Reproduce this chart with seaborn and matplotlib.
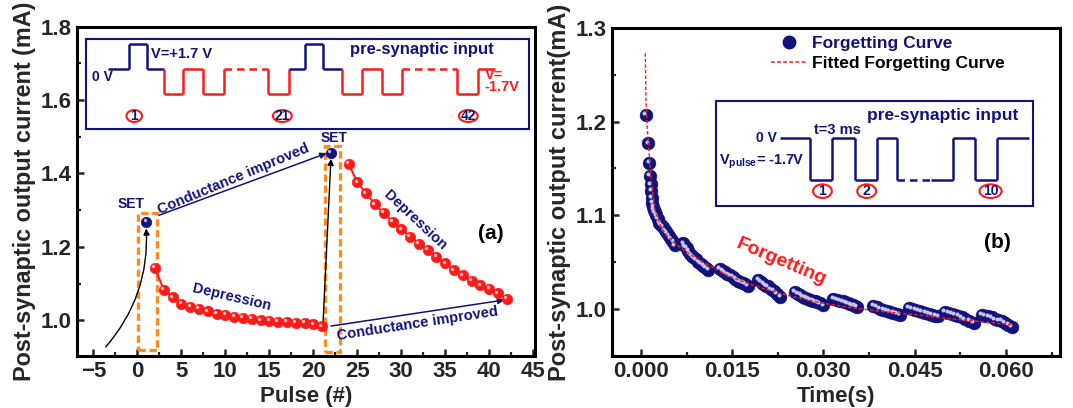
import matplotlib
matplotlib.use("Agg")
import matplotlib.pyplot as plt
import seaborn as sns
import numpy as np
import pandas as pd
from matplotlib.patches import Rectangle, Ellipse
from matplotlib.lines import Line2D
from matplotlib.ticker import MultipleLocator, FormatStrFormatter
from matplotlib.transforms import offset_copy

# ---------------- data ----------------
# (a) potentiation / depression versus pulse number
set_pulse = [1, 22]
set_current = [1.268, 1.457]
dep1_pulse = list(range(2, 22))
dep1_current = [1.143, 1.082, 1.062, 1.045, 1.037, 1.031, 1.024, 1.018, 1.014, 1.009,
                1.006, 1.003, 1.000, 0.998, 0.996, 0.995, 0.993, 0.992, 0.989, 0.983]
dep2_pulse = list(range(24, 43))
dep2_current = [1.427, 1.376, 1.346, 1.316, 1.292, 1.269, 1.248, 1.228, 1.209, 1.191,
                1.173, 1.155, 1.136, 1.122, 1.108, 1.095, 1.086, 1.073, 1.059]

# (b) forgetting curve (time in s, current in mA)
forget_time = [
    0.00082, 0.00120, 0.00137, 0.00148, 0.00158, 0.00167, 0.00176, 0.00188, 0.00200, 0.00215,
    0.00232, 0.00252, 0.00275, 0.00300, 0.00328, 0.00358, 0.00390, 0.00425, 0.00460, 0.00495,
    0.00530, 0.00560,
    0.00696, 0.00725, 0.00751, 0.00778, 0.00806, 0.00833, 0.00861, 0.00902, 0.00943, 0.00984,
    0.01025, 0.01066, 0.01108,
    0.01300, 0.01340, 0.01380, 0.01420, 0.01460, 0.01505, 0.01550, 0.01590, 0.01630, 0.01670,
    0.01710, 0.01760,
    0.01930, 0.01970, 0.02010, 0.02050, 0.02090, 0.02135, 0.02180, 0.02235, 0.02290,
    0.02530, 0.02575, 0.02620, 0.02660, 0.02700, 0.02740, 0.02780, 0.02820, 0.02860, 0.02900,
    0.02940, 0.03000,
    0.03160, 0.03215, 0.03270, 0.03315, 0.03360, 0.03400, 0.03440, 0.03480, 0.03520, 0.03550,
    0.03820, 0.03875, 0.03930, 0.03985, 0.04040, 0.04095, 0.04150, 0.04205, 0.04260,
    0.04400, 0.04455, 0.04510, 0.04565, 0.04620, 0.04675, 0.04730, 0.04785, 0.04840, 0.04890,
    0.05000, 0.05055, 0.05110, 0.05165, 0.05220, 0.05275, 0.05330, 0.05400, 0.05470,
    0.05600, 0.05655, 0.05710, 0.05765, 0.05820, 0.05875, 0.05930, 0.05985, 0.06040, 0.06100,
]
forget_current = [
    1.207, 1.177, 1.156, 1.142, 1.133, 1.126, 1.119, 1.113, 1.109, 1.106,
    1.103, 1.100, 1.096, 1.092, 1.090, 1.088, 1.084, 1.081, 1.078, 1.075,
    1.072, 1.068,
    1.070, 1.067, 1.065, 1.062, 1.059, 1.057, 1.055, 1.053, 1.050, 1.048,
    1.046, 1.044, 1.042,
    1.043, 1.041, 1.039, 1.037, 1.036, 1.034, 1.032, 1.030, 1.029, 1.028,
    1.027, 1.025,
    1.031, 1.029, 1.027, 1.025, 1.024, 1.021, 1.019, 1.016, 1.013,
    1.018, 1.016, 1.015, 1.013, 1.012, 1.011, 1.010, 1.009, 1.008, 1.007,
    1.006, 1.004,
    1.011, 1.010, 1.009, 1.008, 1.007, 1.006, 1.005, 1.004, 1.003, 1.002,
    1.003, 1.002, 1.000, 0.999, 0.998, 0.997, 0.996, 0.995, 0.994,
    1.001, 1.000, 0.999, 0.998, 0.997, 0.996, 0.995, 0.994, 0.993, 0.992,
    0.997, 0.996, 0.995, 0.994, 0.993, 0.991, 0.989, 0.987, 0.985,
    0.994, 0.993, 0.992, 0.991, 0.989, 0.988, 0.987, 0.985, 0.983, 0.981,
]
fit_time = [0.00070, 0.00082, 0.00100, 0.00120, 0.00160, 0.00230, 0.00300, 0.00370, 0.00460,
            0.00560, 0.00700, 0.00860, 0.01050, 0.01250, 0.01450, 0.01680, 0.02000, 0.02500,
            0.03000, 0.03500, 0.04000, 0.04500, 0.05000, 0.05500, 0.06120]
fit_current = [1.273, 1.223, 1.195, 1.177, 1.141, 1.106, 1.092, 1.083, 1.076,
               1.070, 1.063, 1.056, 1.049, 1.042, 1.035, 1.029, 1.022, 1.013,
               1.006, 1.001, 0.997, 0.994, 0.990, 0.987, 0.983]

# pre-synaptic pulse trains (volts)
train_a_levels = [0, 1.7, 0, -1.7, 0, -1.7, 0, -1.7, 0, 1.7, 0, -1.7, 0, -1.7, 0, -1.7, 0]
train_a_set = [True, True, True, False, False, False, False, False, True, True, True,
               False, False, False, False, False, False]
train_b_levels = [0, -1.7, 0, -1.7, 0, -1.7, -1.7, 0, -1.7, 0]
labels_a = ["1", "21", "42"]
labels_b = ["1", "2", "10"]

# ---------------- style ----------------
sns.set_style("ticks")
plt.rcParams["font.family"] = ["Liberation Sans", "DejaVu Sans"]
plt.rcParams["font.weight"] = "bold"
plt.rcParams["axes.labelweight"] = "bold"
plt.rcParams["mathtext.fontset"] = "custom"
plt.rcParams["mathtext.rm"] = "Liberation Sans"
plt.rcParams["mathtext.bf"] = "Liberation Sans:bold"

navy = "#12127a"
red = "#ff1a1a"
orange = "#ff8c1a"

fig = plt.figure(figsize=(10.73, 4.08), dpi=100)
ax1 = fig.add_axes([0.0715, 0.128, 0.4271, 0.8064])
ax2 = fig.add_axes([0.5701, 0.128, 0.4178, 0.8034])


def balls(ax, x, y, color, hi, s):
    sns.scatterplot(x=x, y=y, ax=ax, color=color, s=s, edgecolor=color,
                    linewidth=0.4, zorder=4, legend=False)
    tr = offset_copy(ax.transData, fig=fig, x=-1.2, y=1.2, units="points")
    ax.scatter(x, y, s=s * 0.1, color=hi, transform=tr, zorder=5, linewidths=0)


def style_axes(ax):
    for sp in ax.spines.values():
        sp.set_visible(True)
        sp.set_linewidth(2.2)
        sp.set_color("black")
    ax.tick_params(which="major", direction="in", length=5, width=1.8,
                   labelsize=16, pad=4, top=False, right=False)
    ax.tick_params(which="minor", direction="in", length=3, width=1.6,
                   top=False, right=False)


# ---------------- (a) ----------------
sns.lineplot(x=dep1_pulse, y=dep1_current, ax=ax1, color=red, lw=1.5, zorder=3)
sns.lineplot(x=dep2_pulse, y=dep2_current, ax=ax1, color=red, lw=1.5, zorder=3)
balls(ax1, dep1_pulse, dep1_current, red, "#ffc0c0", 58)
balls(ax1, dep2_pulse, dep2_current, red, "#ffc0c0", 58)
balls(ax1, set_pulse, set_current, navy, "#b8b8e8", 58)

ax1.set_xlim(-6.9, 45.2)
ax1.set_ylim(0.903, 1.8)
ax1.xaxis.set_major_locator(MultipleLocator(5))
ax1.xaxis.set_minor_locator(MultipleLocator(2.5))
ax1.yaxis.set_major_locator(MultipleLocator(0.2))
ax1.yaxis.set_minor_locator(MultipleLocator(0.1))
ax1.yaxis.set_major_formatter(FormatStrFormatter("%.1f"))
style_axes(ax1)
ax1.set_xlabel("Pulse (#)", fontsize=16, labelpad=3)
ax1.set_ylabel("Post-synaptic output current (mA)", fontsize=16.8, labelpad=3)

# dashed frames around the SET pulses
for x0, x1, y0, y1 in [(0.07, 2.27, 0.918, 1.291), (21.3, 23.0, 0.914, 1.475)]:
    ax1.add_patch(Rectangle((x0, y0), x1 - x0, y1 - y0, fill=False, ec=orange,
                            lw=2.4, ls=(0, (2.2, 1.1)), zorder=2))

# black arrows into the SET points
ax1.annotate("", xy=(1.0, 1.25), xytext=(-3.6, 0.927),
             arrowprops=dict(arrowstyle="-|>", color="black", lw=1.0,
                             mutation_scale=9, connectionstyle="arc3,rad=0.2",
                             shrinkA=0, shrinkB=0))
ax1.annotate("", xy=(22.0, 1.44), xytext=(21.1, 0.99),
             arrowprops=dict(arrowstyle="-|>", color="black", lw=1.0,
                             mutation_scale=9, shrinkA=0, shrinkB=0))
# blue "conductance improved" arrows
ax1.annotate("", xy=(21.5, 1.455), xytext=(2.45, 1.286),
             arrowprops=dict(arrowstyle="-|>", color=navy, lw=1.1,
                             mutation_scale=9, shrinkA=0, shrinkB=0))
ax1.annotate("", xy=(41.7, 1.055), xytext=(22.0, 0.984),
             arrowprops=dict(arrowstyle="-|>", color=navy, lw=1.1,
                             mutation_scale=9, shrinkA=0, shrinkB=0))

txt = dict(color=navy, fontweight="bold", ha="center", va="center",
           rotation_mode="anchor")
ax1.text(10.9, 1.3845, "Conductance improved", fontsize=10.5, rotation=22.7, **txt)
ax1.text(31.8, 0.989, "Conductance improved", fontsize=10.5, rotation=8.7, **txt)
ax1.text(10.7, 1.062, "Depression", fontsize=10.5, rotation=-13.2, **txt)
ax1.text(31.6, 1.273, "Depression", fontsize=10.5, rotation=-43, **txt)
ax1.text(-0.76, 1.316, "SET", fontsize=10, **txt)
ax1.text(22.4, 1.497, "SET", fontsize=10, **txt)
ax1.text(40.2, 1.236, "(a)", fontsize=15, color="black", ha="center", va="center")

# inset (a): pre-synaptic pulse train
ia = fig.add_axes([0.0801, 0.6838, 0.4125, 0.2216])
ia.set_xlim(0, 22.54)
ia.set_ylim(-4.07, 2.05)
ia.set_xticks([])
ia.set_yticks([])
for sp in ia.spines.values():
    sp.set_color(navy)
    sp.set_linewidth(1.5)
ia.patch.set_facecolor("white")
ia.set_zorder(6)

widths_a = [1.05, 0.93, 0.88, 0.96, 1.0, 1.05, 2.28, 1.05, 0.79, 0.96, 0.96, 1.0,
            1.02, 1.05, 2.8, 1.05, 0.88]
dashed_a = {6, 14}
xpos = 1.14
prev_lvl, prev_col = None, None
for i, (lvl, w) in enumerate(zip(train_a_levels, widths_a)):
    col = navy if train_a_set[i] else red
    if prev_lvl is not None and prev_lvl != lvl:
        vcol = red if (col == red or prev_col == red) else navy
        ia.plot([xpos, xpos], [prev_lvl, lvl], color=vcol, lw=1.8, solid_capstyle="butt")
    ls = (0, (3, 2)) if i in dashed_a else "-"
    ia.plot([xpos, xpos + w], [lvl, lvl], color=col, lw=1.8, ls=ls, solid_capstyle="butt")
    xpos += w
    prev_lvl, prev_col = lvl, col

ia.text(1.38, -0.58, "0 V", color=navy, fontsize=10, ha="right", va="center")
ia.text(4.88, 0.98, "V=+1.7 V", color=navy, fontsize=10.5, ha="center", va="center")
ia.text(17.1, 1.33, "pre-synaptic input", color=navy, fontsize=12, ha="center", va="center")
ia.text(20.3, -0.83, "V=\n-1.7V", color=red, fontsize=10.5, ha="left", va="center",
        linespacing=0.85)
for lab, xc in zip(labels_a, [2.46, 10.0, 19.47]):
    w = 0.79 if len(lab) == 1 else 0.96
    ia.add_patch(Ellipse((xc, -3.19), w, 0.81, fill=False, ec=red, lw=1.5))
    ia.text(xc, -3.19, lab, color=navy, fontsize=10, ha="center", va="center")

# ---------------- (b) ----------------
forget_df = pd.DataFrame({"time": forget_time, "current": forget_current})
fit_df = pd.DataFrame({"time": fit_time, "current": fit_current})
balls(ax2, forget_df["time"], forget_df["current"], navy, "#c4c4ee", 85)
sns.lineplot(data=fit_df, x="time", y="current", ax=ax2, color=red, lw=1.0,
             ls=(0, (2.5, 1.5)), sort=False, zorder=6)

ax2.set_xlim(-0.00482, 0.0689)
ax2.set_ylim(0.95, 1.3)
ax2.xaxis.set_major_locator(MultipleLocator(0.015))
ax2.xaxis.set_minor_locator(MultipleLocator(0.0075))
ax2.xaxis.set_major_formatter(FormatStrFormatter("%.3f"))
ax2.yaxis.set_major_locator(MultipleLocator(0.1))
ax2.yaxis.set_minor_locator(MultipleLocator(0.05))
ax2.yaxis.set_major_formatter(FormatStrFormatter("%.1f"))
style_axes(ax2)
ax2.set_xlabel("Time(s)", fontsize=16, labelpad=3)
ax2.set_ylabel("Post-synaptic output current(mA)", fontsize=17, labelpad=3)

ax2.text(0.0231, 1.050, "Forgetting", color=red, fontsize=14, rotation=-23,
         ha="center", va="center", rotation_mode="anchor")
ax2.text(0.0586, 1.071, "(b)", color="black", fontsize=15, ha="center", va="center")

h1 = Line2D([], [], ls="none", marker="o", ms=9, mfc=navy, mec=navy)
h2 = Line2D([], [], ls=(0, (2.5, 1.5)), color=red, lw=1.1)
leg = ax2.legend([h1, h2], ["Forgetting Curve", "Fitted Forgetting Curve"],
                 loc="upper left", bbox_to_anchor=(0.355, 0.975), frameon=False,
                 fontsize=12.5, handlelength=2.1, handletextpad=0.25,
                 labelspacing=0.25, borderpad=0, borderaxespad=0)
leg.get_texts()[0].set_color(navy)
leg.get_texts()[1].set_color("black")

# inset (b): pre-synaptic pulse train
ib = fig.add_axes([0.6673, 0.4951, 0.2954, 0.2564])
ib.set_xlim(0, 14.35)
ib.set_ylim(-2.78, 1.52)
ib.set_xticks([])
ib.set_yticks([])
for sp in ib.spines.values():
    sp.set_color(navy)
    sp.set_linewidth(1.5)
ib.set_zorder(6)

widths_b = [1.38, 1, 1, 1, 0.92, 1.54, 1, 1, 1, 1.46]
dashed_b = {5}
xpos = 2.89
prev_lvl = None
for i, (lvl, w) in enumerate(zip(train_b_levels, widths_b)):
    if prev_lvl is not None and prev_lvl != lvl:
        ib.plot([xpos, xpos], [prev_lvl, lvl], color=navy, lw=1.8, solid_capstyle="butt")
    ls = (0, (3, 2)) if i in dashed_b else "-"
    ib.plot([xpos, xpos + w], [lvl, lvl], color=navy, lw=1.8, ls=ls, solid_capstyle="butt")
    xpos += w
    prev_lvl = lvl

ib.text(2.75, 0.0, "0 V", color=navy, fontsize=10, ha="right", va="center")
ib.text(2.05, -0.974, r"V$_{\rm pulse}$= -1.7V", color=navy, fontsize=10.5,
        ha="center", va="center")
ib.text(5.5, 0.34, "t=3 ms", color=navy, fontsize=10.5, ha="center", va="center")
ib.text(10.28, 0.95, "pre-synaptic input", color=navy, fontsize=12.5, ha="center",
        va="center")
for lab, xc in zip(labels_b, [4.82, 6.82, 12.43]):
    w = 0.85 if len(lab) == 1 else 1.0
    ib.add_patch(Ellipse((xc, -2.17), w, 0.56, fill=False, ec=red, lw=1.5))
    ib.text(xc, -2.17, lab, color=navy, fontsize=10, ha="center", va="center")

fig.savefig("out.png", dpi=100)
